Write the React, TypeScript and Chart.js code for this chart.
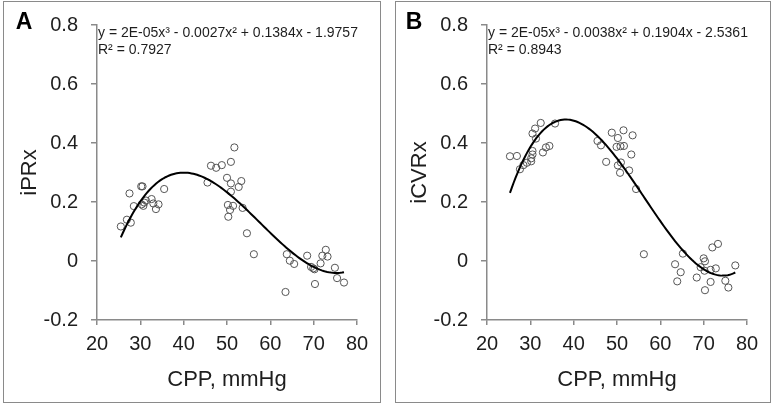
import React, { useEffect, useRef } from "react";
import { Chart, registerables } from "chart.js";
Chart.register(...registerables);

const xTicks = [20, 30, 40, 50, 60, 70, 80];
const xTickLabels = ["20", "30", "40", "50", "60", "70", "80"];
const yTicks = [-0.2, 0, 0.2, 0.4, 0.6, 0.8];
const yTickLabels = ["-0.2", "0", "0.2", "0.4", "0.6", "0.8"];

const xTitle = "CPP, mmHg";

// Panel A: iPRx vs CPP
const aCpp = [
  25.5, 26.9, 27.8, 27.5, 28.5, 30.2, 30.5, 30.3, 30.7, 30.9, 31.3, 32.6, 33.0, 34.2, 33.6, 35.5,
  45.5, 46.3, 47.5, 48.8, 50.9, 51.7, 50.0, 50.9, 53.3, 52.7, 50.9, 50.2, 51.4, 50.7, 50.3, 53.6,
  54.6, 56.2, 63.8, 64.5, 65.5, 63.5, 68.5, 69.4, 70.2, 69.9, 70.3, 71.6, 72.0, 72.8, 73.2, 74.9,
  75.4, 77.0,
];
const aIprx = [
  0.117, 0.14, 0.13, 0.229, 0.186, 0.253, 0.253, 0.192, 0.187, 0.198, 0.205, 0.21, 0.195, 0.192, 0.176, 0.244,
  0.266, 0.323, 0.316, 0.325, 0.336, 0.385, 0.282, 0.263, 0.271, 0.251, 0.235, 0.19, 0.187, 0.173, 0.15, 0.18,
  0.094, 0.023, 0.023, 0.001, -0.01, -0.105, 0.018, -0.02, -0.028, -0.025, -0.078, -0.008, 0.018, 0.038, 0.015, -0.023,
  -0.058, -0.073,
];

// Panel B: iCVRx vs CPP
const bCpp = [
  25.3, 26.9, 27.6, 28.4, 29.2, 30.2, 30.2, 30.5, 30.5, 30.5, 31.1, 31.3, 32.4, 32.9, 33.6, 34.4, 35.7,
  45.5, 46.3, 47.5, 48.8, 50.2, 51.5, 53.6, 49.9, 50.8, 51.6, 53.3, 50.9, 50.2, 50.7, 52.8, 54.4,
  56.2, 65.2, 63.4, 64.7, 63.9, 68.4, 70.0, 70.3, 69.3, 70.2, 71.6, 72.8, 72.0, 73.3, 71.6, 70.3,
  75.0, 75.7, 77.3,
];
const bIcvrx = [
  0.355, 0.356, 0.311, 0.325, 0.333, 0.338, 0.348, 0.361, 0.373, 0.432, 0.449, 0.415, 0.468, 0.368, 0.385, 0.39, 0.466,
  0.407, 0.392, 0.336, 0.435, 0.417, 0.443, 0.426, 0.387, 0.389, 0.39, 0.361, 0.334, 0.324, 0.299, 0.307, 0.244,
  0.023, 0.025, -0.011, -0.038, -0.069, -0.056, 0.009, -0.001, -0.021, -0.033, -0.03, -0.025, 0.046, 0.058, -0.071, -0.099,
  -0.067, -0.09, -0.015,
];

const eqA = ["y = 2E-05x\u00B3 - 0.0027x\u00B2 + 0.1384x - 1.9757", "R\u00B2 = 0.7927"];
const eqB = ["y = 2E-05x\u00B3 - 0.0038x\u00B2 + 0.1904x - 2.5361", "R\u00B2 = 0.8943"];

const FONT = "'Liberation Sans', Arial, Helvetica, sans-serif";
const TEXT = "#1e1e1e";
const AXIS = "#8a8a8a";

// Least-squares cubic trendline computed from the scatter data
function cubicFit(xs: number[], ys: number[]) {
  const mx = 50, s = 30;
  const M = [0, 1, 2, 3].map(() => [0, 0, 0, 0]);
  const v = [0, 0, 0, 0];
  xs.forEach((x, i) => {
    const t = (x - mx) / s;
    const p = [1, t, t * t, t * t * t];
    for (let j = 0; j < 4; j++) {
      v[j] += p[j] * ys[i];
      for (let k = 0; k < 4; k++) M[j][k] += p[j] * p[k];
    }
  });
  for (let c = 0; c < 4; c++) {
    let piv = c;
    for (let r = c + 1; r < 4; r++) if (Math.abs(M[r][c]) > Math.abs(M[piv][c])) piv = r;
    [M[c], M[piv]] = [M[piv], M[c]];
    [v[c], v[piv]] = [v[piv], v[c]];
    for (let r = 0; r < 4; r++) {
      if (r === c) continue;
      const f = M[r][c] / M[c][c];
      for (let k = c; k < 4; k++) M[r][k] -= f * M[c][k];
      v[r] -= f * v[c];
    }
  }
  const coef = v.map((val, i) => val / M[i][i]);
  return (x: number) => {
    const t = (x - mx) / s;
    return coef[0] + coef[1] * t + coef[2] * t * t + coef[3] * t * t * t;
  };
}

type PanelProps = {
  left: number;
  width: number;
  xs: number[];
  ys: number[];
  letter: string;
  yTitle: string;
  eq: string[];
};

function Panel({ left, width, xs, ys, letter, yTitle, eq }: PanelProps) {
  const ref = useRef<HTMLCanvasElement>(null);
  useEffect(() => {
    if (!ref.current) return;
    const fit = cubicFit(xs, ys);
    const minX = Math.min(...xs);
    const maxX = Math.max(...xs);
    const curve: { x: number; y: number }[] = [];
    const steps = 120;
    for (let i = 0; i <= steps; i++) {
      const x = minX + ((maxX - minX) * i) / steps;
      curve.push({ x, y: fit(x) });
    }
    const overlay = {
      id: "overlay",
      afterDraw(chart: any) {
        const ctx = chart.ctx;
        const ca = chart.chartArea;
        ctx.save();
        ctx.fillStyle = "#000";
        ctx.font = `bold 23px ${FONT}`;
        ctx.textAlign = "center";
        ctx.textBaseline = "middle";
        ctx.fillText(letter, 24, 23);
        ctx.fillStyle = TEXT;
        ctx.font = `14px ${FONT}`;
        ctx.textAlign = "left";
        ctx.fillText(eq[0], ca.left + 1, 33);
        ctx.fillText(eq[1], ca.left + 1, 50);
        ctx.restore();
      },
    };
    const chart = new Chart(ref.current, {
      type: "scatter",
      data: {
        datasets: [
          {
            type: "line",
            data: curve,
            borderColor: "#000",
            borderWidth: 2,
            pointRadius: 0,
            fill: false,
            tension: 0,
            order: 0,
          } as any,
          {
            data: xs.map((x, i) => ({ x, y: ys[i] })),
            pointRadius: 3.6,
            borderColor: "#555",
            backgroundColor: "rgba(0,0,0,0)",
            borderWidth: 1,
            order: 1,
          },
        ],
      },
      options: {
        responsive: false,
        animation: false,
        layout: { padding: { left: 0, top: 25, right: width - 357, bottom: 0 } },
        plugins: { legend: { display: false }, tooltip: { enabled: false } },
        scales: {
          x: {
            type: "linear",
            min: 20,
            max: 80,
            afterBuildTicks: (s: any) => {
              s.ticks = xTicks.map((v) => ({ value: v }));
            },
            afterFit: (s: any) => {
              s.height = 85;
            },
            ticks: {
              callback: (_v: any, i: number) => xTickLabels[i],
              font: { size: 20, family: FONT },
              color: TEXT,
              padding: 7,
              maxRotation: 0,
              autoSkip: false,
            },
            grid: { drawOnChartArea: false, drawTicks: true, tickLength: 5, color: AXIS, lineWidth: 1.5 },
            border: { display: true, color: AXIS, width: 1.5 },
            title: {
              display: true,
              text: xTitle,
              font: { size: 22, family: FONT },
              color: TEXT,
              padding: { top: 0, bottom: 12 },
            },
          },
          y: {
            type: "linear",
            min: -0.2,
            max: 0.8,
            afterBuildTicks: (s: any) => {
              s.ticks = yTicks.map((v) => ({ value: v }));
            },
            afterFit: (s: any) => {
              s.width = 97;
            },
            ticks: {
              callback: (_v: any, i: number) => yTickLabels[i],
              font: { size: 20, family: FONT },
              color: TEXT,
              padding: 13,
              autoSkip: false,
            },
            grid: { drawOnChartArea: false, drawTicks: true, tickLength: 6, color: AXIS, lineWidth: 1.5 },
            border: { display: true, color: AXIS, width: 1.5 },
            title: {
              display: true,
              text: yTitle,
              font: { size: 22, family: FONT },
              color: TEXT,
              padding: { top: 17, bottom: 0 },
            },
          },
        },
      },
      plugins: [overlay],
    });
    return () => chart.destroy();
  }, []);
  return (
    <canvas
      ref={ref}
      width={width}
      height={405}
      style={{ position: "absolute", left, top: 0, width, height: 405 }}
    />
  );
}

export default function App() {
  return (
    <div style={{ position: "absolute", left: 0, top: 0, width: 774, height: 405, background: "#fff", overflow: "hidden" }}>
      <div style={{ position: "absolute", left: 3, top: 1, width: 378, height: 402, boxSizing: "border-box", border: `1.5px solid ${AXIS}` }} />
      <div style={{ position: "absolute", left: 395, top: 1, width: 376, height: 402, boxSizing: "border-box", border: `1.5px solid ${AXIS}` }} />
      <Panel left={0} width={390} xs={aCpp} ys={aIprx} letter="A" yTitle="iPRx" eq={eqA} />
      <Panel left={390} width={384} xs={bCpp} ys={bIcvrx} letter="B" yTitle="iCVRx" eq={eqB} />
    </div>
  );
}
